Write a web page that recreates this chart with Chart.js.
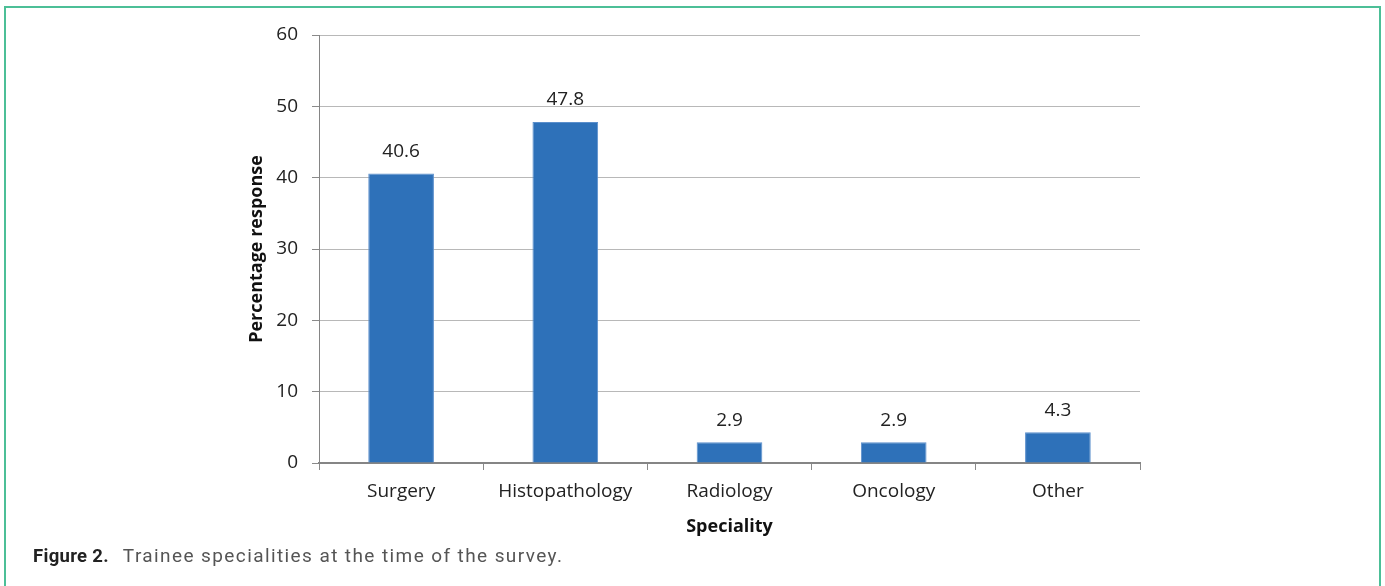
<!DOCTYPE html>
<html>
<head>
<meta charset="utf-8">
<script src="https://cdn.jsdelivr.net/npm/chart.js@4/dist/chart.umd.min.js"></script>
<style>
  html, body { margin: 0; padding: 0; background: #fff; }
  body { width: 1385px; height: 586px; position: relative; overflow: hidden; }
  #frame {
    position: absolute; left: 4px; top: 6px; width: 1373px; height: 600px;
    border: 2px solid #4cbf97; box-sizing: content-box;
  }
  #wrap { position: absolute; left: 0; top: 0; width: 1385px; height: 586px; }
  #caption {
    position: absolute; left: 33px; top: 544px;
    font-family: Roboto, sans-serif; font-size: 19px; color: #555;
    letter-spacing: 1.4px; white-space: pre;
  }
  #caption b { color: #222; font-weight: 700; letter-spacing: 0.3px; font-size: 18.5px; margin-right: 14px; }
</style>
</head>
<body>
<div id="frame"></div>
<div id="wrap"><canvas id="chart" width="1385" height="586"></canvas></div>
<div id="caption"><b>Figure 2.</b>Trainee specialities at the time of the survey.</div>
<script>
const categories = ['Surgery', 'Histopathology', 'Radiology', 'Oncology', 'Other'];
const percentages = [40.6, 47.8, 2.9, 2.9, 4.3];
const yTicks = [0, 10, 20, 30, 40, 50, 60];

const chartFont = '"Open Sans", sans-serif';

// writes the value above each bar
const valueLabels = {
  id: 'valueLabels',
  afterDatasetsDraw(chart) {
    const ctx = chart.ctx;
    const meta = chart.getDatasetMeta(0);
    ctx.save();
    ctx.font = '19px ' + chartFont;
    ctx.fillStyle = '#222';
    ctx.textAlign = 'center';
    ctx.textBaseline = 'middle';
    meta.data.forEach((bar, i) => {
      ctx.fillText(percentages[i].toFixed(1), bar.x, bar.y - 22);
    });
    ctx.restore();
  }
};

const ctx = document.getElementById('chart').getContext('2d');
new Chart(ctx, {
  type: 'bar',
  data: {
    labels: categories,
    datasets: [{
      data: percentages,
      backgroundColor: '#2e71b9',
      borderColor: '#5b8fcc',
      borderWidth: { left: 1, right: 1, top: 1, bottom: 0 },
      categoryPercentage: 1,
      barPercentage: 0.4
    }]
  },
  options: {
    responsive: false,
    maintainAspectRatio: false,
    animation: false,
    layout: { padding: { left: 240, right: 245, top: 35, bottom: 0 } },
    plugins: {
      legend: { display: false },
      tooltip: { enabled: false }
    },
    scales: {
      x: {
        afterFit: s => { s.height = 123; },
        grid: {
          display: true,
          drawOnChartArea: false,
          tickLength: 7,
          tickColor: '#8a8a8a',
          offset: true
        },
        border: { color: '#858585', width: 2 },
        ticks: {
          color: '#222',
          padding: 10,
          font: { family: chartFont, size: 19 }
        },
        title: {
          display: true,
          text: 'Speciality',
          color: '#111',
          font: { family: chartFont, size: 18, weight: 'bold' },
          padding: { top: 0, bottom: 48 }
        }
      },
      y: {
        min: 0,
        max: 60,
        afterFit: s => { s.width = 79; },
        afterBuildTicks: s => { s.ticks = yTicks.map(v => ({ value: v })); },
        grid: {
          color: '#b8b8b8',
          lineWidth: 1,
          tickLength: 7,
          tickColor: '#8a8a8a'
        },
        border: { color: '#858585', width: 1 },
        ticks: {
          color: '#222',
          padding: 14,
          font: { family: chartFont, size: 19 }
        },
        title: {
          display: true,
          text: 'Percentage response',
          color: '#111',
          font: { family: chartFont, size: 18, weight: 'bold' },
          padding: { top: 6, bottom: 0 }
        }
      }
    }
  },
  plugins: [valueLabels]
});
</script>
</body>
</html>
